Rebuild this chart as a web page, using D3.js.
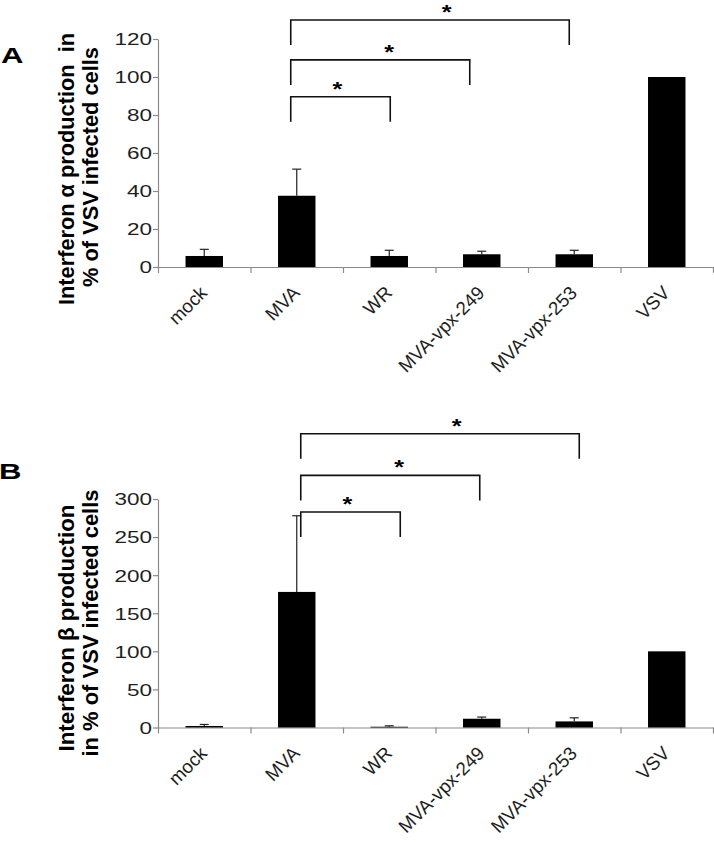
<!DOCTYPE html>
<html>
<head>
<meta charset="utf-8">
<script src="https://cdn.jsdelivr.net/npm/d3@7"></script>
<style>
  html, body { margin: 0; padding: 0; background: #fff; }
  svg { display: block; }
  text { font-family: "Liberation Sans", Arial, sans-serif; white-space: pre; }
</style>
</head>
<body>
<svg id="chart" width="714" height="842"></svg>
<script>
// ---- data ----
const categories = ["mock", "MVA", "WR", "MVA-vpx-249", "MVA-vpx-253", "VSV"];
const alphaValues = [5.8, 37.5, 5.8, 6.7, 6.7, 100];
const alphaErrors = [3.5, 14, 3, 1.6, 2.1, 0];
const betaValues = [2, 178, 1, 11.5, 8, 100];
const betaErrors = [2, 100, 1.2, 2.2, 4.7, 0];
const alphaTicks = [0, 20, 40, 60, 80, 100, 120];
const betaTicks = [0, 50, 100, 150, 200, 250, 300];
const comparisonRef = "MVA";
const comparisonTargets = ["WR", "MVA-vpx-249", "MVA-vpx-253"];
const comparisonMarks = ["*", "*", "*"];
const panelLetters = ["A", "B"];
const alphaTitle = ["Interferon \u03b1 production  in", "% of VSV infected cells"];
const betaTitle = ["Interferon \u03b2 production", "in % of VSV infected cells"];

// ---- layout ----
const SX = 1.38; // horizontal glyph stretch seen in the figure
const svg = d3.select("#chart");
const x0 = 158, x1 = 713;

const x = d3.scaleBand().domain(categories).range([x0, x1])
  .paddingInner(0.595).paddingOuter(0.2975);
const boundary = d3.scaleLinear().domain([0, categories.length]).range([x0, x1]);
const xc = c => x(c) + x.bandwidth() / 2;

function panel(cfg) {
  const g = svg.append("g");
  const y = d3.scaleLinear().domain([0, cfg.ticks[cfg.ticks.length - 1]]).range(cfg.yRange);

  // y axis
  const ya = g.append("g").attr("transform", `translate(${x0},0)`)
    .call(d3.axisLeft(y).tickValues(cfg.ticks).tickSize(5).tickSizeOuter(0).tickFormat(d3.format("d")));
  ya.select(".domain").attr("stroke", "#8a8a8a").attr("stroke-width", 1.2);
  ya.selectAll(".tick line").attr("stroke", "#8a8a8a").attr("stroke-width", 1.2);
  ya.selectAll(".tick text")
    .attr("x", 0).attr("dy", "0.36em")
    .attr("transform", `translate(-6,0) scale(${SX},1)`)
    .attr("font-size", 16.3).attr("fill", "#1e1e1e")
    .attr("font-family", "Liberation Sans, Arial, sans-serif");

  // x axis (ticks at category boundaries)
  const xa = g.append("g").attr("transform", `translate(0,${cfg.yRange[0]})`)
    .call(d3.axisBottom(boundary).tickValues(d3.range(categories.length + 1)).tickSize(6).tickSizeOuter(0).tickFormat(""));
  xa.select(".domain").attr("stroke", "#8a8a8a").attr("stroke-width", 1.2);
  xa.selectAll(".tick line").attr("stroke", "#8a8a8a").attr("stroke-width", 1.2);

  // x labels
  g.append("g").selectAll("text").data(categories).join("text")
    .attr("transform", c => `translate(${xc(c) + 4},${cfg.yRange[0] + 27}) rotate(-45)`)
    .attr("text-anchor", "end")
    .attr("font-size", 18.8).attr("fill", "#1e1e1e")
    .text(c => c);

  // bars
  g.append("g").selectAll("rect").data(categories).join("rect")
    .attr("x", c => x(c)).attr("width", x.bandwidth())
    .attr("y", (c, i) => y(cfg.values[i]))
    .attr("height", (c, i) => y(0) - y(cfg.values[i]))
    .attr("fill", "#000");

  // error bars (upper only)
  const eb = g.append("g").attr("stroke", "#222").attr("stroke-width", 1.2);
  categories.forEach((c, i) => {
    if (!cfg.errors[i]) return;
    const cx = xc(c), top = y(cfg.values[i] + cfg.errors[i]);
    eb.append("line").attr("x1", cx).attr("x2", cx).attr("y1", y(cfg.values[i])).attr("y2", top);
    eb.append("line").attr("x1", cx - 4.5).attr("x2", cx + 4.5).attr("y1", top).attr("y2", top);
  });

  // significance brackets
  const bg = g.append("g");
  const adj = [7, -6, 1];
  const starFrac = [0.47, 0.55, 0.56];
  comparisonTargets.forEach((t, i) => {
    const left = xc(comparisonRef) + cfg.shift;
    const right = xc(t) + cfg.shift + adj[i];
    const top = y(cfg.bracketLevels[i]);
    bg.append("path")
      .attr("d", `M${left},${top + 25}V${top}H${right}V${top + 25}`)
      .attr("fill", "none").attr("stroke", "#111").attr("stroke-width", 1.6);
    bg.append("text")
      .attr("transform", `translate(${left + starFrac[i] * (right - left)},${top - 1}) scale(1.2,1)`)
      .attr("text-anchor", "middle").attr("font-weight", "bold").attr("font-size", 21)
      .attr("fill", "#000").text(comparisonMarks[i]);
  });

  // panel letter
  g.append("text")
    .attr("transform", `translate(${cfg.letterPos[0]},${cfg.letterPos[1]}) scale(${SX},1)`)
    .attr("font-weight", "bold").attr("font-size", 22.5).attr("fill", "#000")
    .text(cfg.letter);

  // y title
  cfg.title.forEach((line, i) => {
    g.append("text")
      .attr("transform", `translate(${i === 0 ? 74 : 98},${cfg.titleY[i]}) rotate(-90)`)
      .attr("text-anchor", "middle").attr("font-weight", "bold").attr("font-size", 22)
      .attr("textLength", cfg.titleLen[i]).attr("lengthAdjust", "spacingAndGlyphs")
      .attr("fill", "#000").text(line);
  });
}

panel({
  values: alphaValues, errors: alphaErrors, ticks: alphaTicks,
  yRange: [267, 39], letter: panelLetters[0], letterPos: [1, 63],
  title: alphaTitle, titleY: [169, 167], titleLen: [272, 240],
  shift: -6, bracketLevels: [89.6, 109, 130]
});
panel({
  values: betaValues, errors: betaErrors, ticks: betaTicks,
  yRange: [727.5, 499], letter: panelLetters[1], letterPos: [-1, 479],
  title: betaTitle, titleY: [628, 623], titleLen: [247, 267],
  shift: 4, bracketLevels: [283, 331, 385.6]
});
</script>
</body>
</html>
